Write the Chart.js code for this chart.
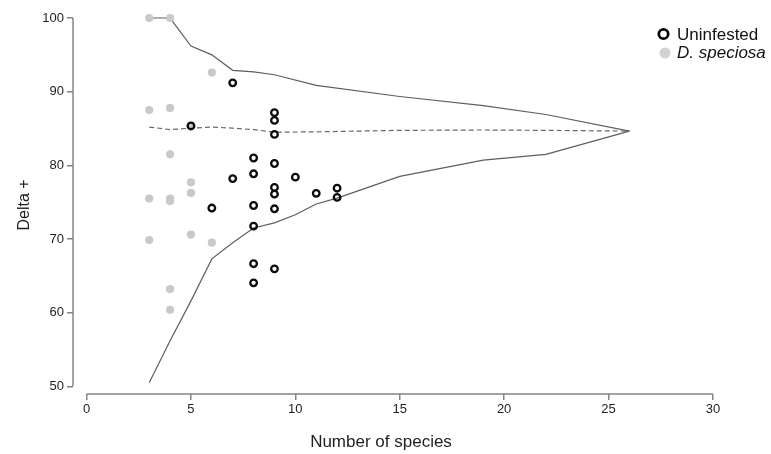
<!DOCTYPE html>
<html>
<head>
<meta charset="utf-8">
<script src="https://cdn.jsdelivr.net/npm/chart.js@4/dist/chart.umd.min.js"></script>
<style>
  html, body { margin: 0; padding: 0; background: #ffffff; }
  #wrap { width: 771px; height: 454px; }
</style>
</head>
<body>
<div id="wrap"><canvas id="c" width="771" height="454"></canvas></div>
<script>
// ---- Data ----
const xTitle = "Number of species";
const yTitle = "Delta +";
const xTicks = [0, 5, 10, 15, 20, 25, 30];
const yTicks = [50, 60, 70, 80, 90, 100];

const seriesNames = ["Uninfested", "D. speciosa"];

const uninfestedSpecies = [5, 6, 7, 7, 8, 8, 8, 8, 8, 8, 9, 9, 9, 9, 9, 9, 9, 9, 10, 11, 12, 12];
const uninfestedDelta   = [85.35, 74.2, 91.2, 78.2, 81.0, 78.85, 74.55, 71.75, 66.65, 64.05,
                           87.15, 86.1, 84.2, 80.25, 77.0, 76.1, 74.1, 65.95, 78.4, 76.2, 76.9, 75.65];

const speciosaSpecies = [3, 3, 3, 3, 4, 4, 4, 4, 4, 4, 4, 5, 5, 5, 5, 6, 6];
const speciosaDelta   = [100, 87.5, 75.5, 69.85, 100, 87.8, 81.5, 75.5, 75.15, 63.2, 60.4,
                         85.35, 77.7, 76.25, 70.6, 92.6, 69.5];

const upperSpecies = [3, 4, 5, 6, 7, 8, 9, 11, 15, 19, 22, 26];
const upperDelta   = [100, 100, 96.2, 95.0, 92.9, 92.7, 92.3, 90.85, 89.35, 88.1, 86.9, 84.65];

const meanSpecies = [3, 4, 5, 6, 7, 8, 9, 11, 15, 19, 22, 26];
const meanDelta   = [85.2, 84.85, 85.05, 85.2, 85.05, 84.85, 84.5, 84.55, 84.75, 84.8, 84.75, 84.65];

const lowerSpecies = [3, 4, 5, 6, 7, 8, 9, 10, 11, 12, 15, 19, 22, 26];
const lowerDelta   = [50.5, 56.2, 61.6, 67.3, 69.5, 71.5, 72.2, 73.3, 74.75, 75.55, 78.5, 80.7, 81.5, 84.65];

// ---- helpers ----
function pts(xs, ys) { return xs.map((x, i) => ({ x: x, y: ys[i] })); }

const FONT = "'Liberation Sans', Arial, Helvetica, sans-serif";
const AXIS_COLOR = '#858585';
const TEXT_COLOR = '#1f1f1f';

const decorPlugin = {
  id: 'decor',
  beforeDatasetsDraw(chart) {
    const ctx = chart.ctx;
    const xs = chart.scales.x, ys = chart.scales.y;
    const ca = chart.chartArea;
    ctx.save();
    ctx.strokeStyle = AXIS_COLOR;
    ctx.lineWidth = 1.5;
    // y axis line (50..100)
    ctx.beginPath();
    ctx.moveTo(ca.left, ys.getPixelForValue(yTicks[0]));
    ctx.lineTo(ca.left, ys.getPixelForValue(yTicks[yTicks.length - 1]));
    ctx.stroke();
    // x axis line (0..30)
    ctx.beginPath();
    ctx.moveTo(xs.getPixelForValue(xTicks[0]), ca.bottom);
    ctx.lineTo(xs.getPixelForValue(xTicks[xTicks.length - 1]), ca.bottom);
    ctx.stroke();
    ctx.restore();
  },
  afterDraw(chart) {
    const ctx = chart.ctx;
    ctx.save();
    ctx.fillStyle = TEXT_COLOR;
    // x title
    ctx.font = "17px " + FONT;
    ctx.textAlign = 'center';
    ctx.textBaseline = 'alphabetic';
    ctx.fillText(xTitle, 381, 447);
    // y title
    ctx.save();
    ctx.translate(28.5, 205);
    ctx.rotate(-Math.PI / 2);
    ctx.font = "16px " + FONT;
    ctx.textAlign = 'center';
    ctx.fillText(yTitle, 0, 0);
    ctx.restore();
    // legend
    ctx.textAlign = 'left';
    ctx.beginPath();
    ctx.arc(663.5, 34, 4.7, 0, Math.PI * 2);
    ctx.lineWidth = 2.7;
    ctx.strokeStyle = '#000000';
    ctx.stroke();
    ctx.font = "17px " + FONT;
    ctx.fillStyle = '#111111';
    ctx.fillText(seriesNames[0], 677, 39.5);
    ctx.beginPath();
    ctx.arc(665, 53, 5.5, 0, Math.PI * 2);
    ctx.fillStyle = '#d2d2d2';
    ctx.fill();
    ctx.font = "italic 17px " + FONT;
    ctx.fillStyle = '#111111';
    ctx.fillText(seriesNames[1], 677, 58);
    ctx.restore();
  }
};

const ctx = document.getElementById('c').getContext('2d');
new Chart(ctx, {
  type: 'scatter',
  data: {
    datasets: [
      {
        label: 'upper',
        data: pts(upperSpecies, upperDelta),
        showLine: true, pointRadius: 0, borderColor: '#5e5e5e', borderWidth: 1.2,
        tension: 0, clip: false, order: 5
      },
      {
        label: 'mean',
        data: pts(meanSpecies, meanDelta),
        showLine: true, pointRadius: 0, borderColor: '#6a6a6a', borderWidth: 1.2,
        borderDash: [5, 3], tension: 0, clip: false, order: 5
      },
      {
        label: 'lower',
        data: pts(lowerSpecies, lowerDelta),
        showLine: true, pointRadius: 0, borderColor: '#5e5e5e', borderWidth: 1.2,
        tension: 0, clip: false, order: 5
      },
      {
        label: seriesNames[1],
        data: pts(speciosaSpecies, speciosaDelta),
        pointRadius: 4.1, pointHoverRadius: 4.1, pointBorderWidth: 0,
        backgroundColor: '#c9c9c9', borderColor: '#c9c9c9', clip: false, order: 2
      },
      {
        label: seriesNames[0],
        data: pts(uninfestedSpecies, uninfestedDelta),
        pointRadius: 3.3, pointHoverRadius: 3.3, pointBorderWidth: 2.3,
        backgroundColor: 'rgba(0,0,0,0)', borderColor: '#0a0a0a', clip: false, order: 1
      }
    ]
  },
  options: {
    responsive: false,
    animation: false,
    devicePixelRatio: 1,
    layout: { padding: { top: 8, right: 51, left: 0, bottom: 0 } },
    plugins: {
      legend: { display: false },
      tooltip: { enabled: false }
    },
    scales: {
      x: {
        type: 'linear',
        min: -0.65, max: 30.34,
        afterFit(scale) { scale.height = 60; },
        border: { display: false },
        grid: { drawOnChartArea: false, drawTicks: true, tickLength: 6, color: AXIS_COLOR, lineWidth: 1.5 },
        ticks: { stepSize: 5, includeBounds: false, autoSkip: false, maxRotation: 0, padding: 2,
                 color: TEXT_COLOR, font: { family: FONT, size: 13 } },
        afterBuildTicks(scale) { scale.ticks = xTicks.map(v => ({ value: v })); }
      },
      y: {
        type: 'linear',
        min: 48.96, max: 100.98,
        afterFit(scale) { scale.width = 73; },
        border: { display: false },
        grid: { drawOnChartArea: false, drawTicks: true, tickLength: 6, color: AXIS_COLOR, lineWidth: 1.5 },
        ticks: { stepSize: 10, includeBounds: false, autoSkip: false, padding: 3,
                 color: TEXT_COLOR, font: { family: FONT, size: 13 } },
        afterBuildTicks(scale) { scale.ticks = yTicks.map(v => ({ value: v })); }
      }
    }
  },
  plugins: [decorPlugin]
});
</script>
</body>
</html>
